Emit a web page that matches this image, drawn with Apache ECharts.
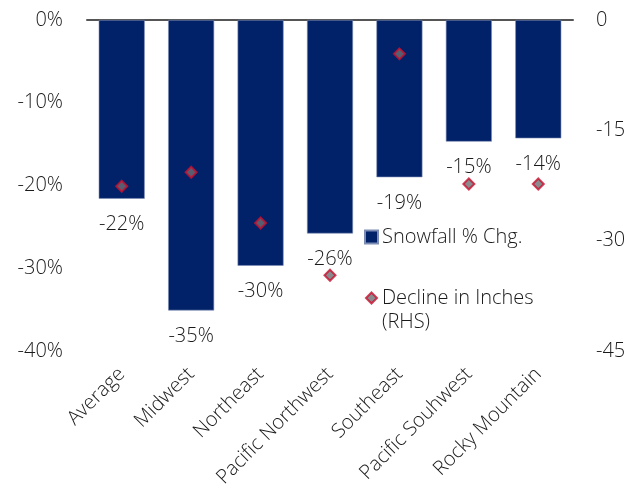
<!DOCTYPE html>
<html>
<head>
<meta charset="utf-8">
<script src="https://cdn.jsdelivr.net/npm/echarts@6/dist/echarts.min.js"></script>
<style>
  html, body { margin: 0; padding: 0; background: #fff; }
  #chart { width: 629px; height: 497px; }
</style>
</head>
<body>
<div id="chart"></div>
<script>
// Regional snowfall change: percent change (bars, left axis) and decline in inches (diamonds, right axis)
const regions = ['Average', 'Midwest', 'Northeast', 'Pacific Northwest', 'Southeast', 'Pacific Souhwest', 'Rocky Mountain'];
const snowfallPctChg = [-21.6, -35.1, -29.7, -25.8, -19.0, -14.7, -14.3];
const declineInches = [-22.6, -20.7, -27.6, -34.7, -4.6, -22.3, -22.3];
const leftTicks = { min: -40, max: 0, interval: 10 };
const rightTicks = { min: -45, max: 0, interval: 15 };

const FONT = "'Open Sans', 'Noto Sans', sans-serif";
const WEIGHT = 300;
const NAVY = '#012169';
const RED = '#c8102e';
const TEXT = '#1a1a1a';

const chart = echarts.init(document.getElementById('chart'), null, { renderer: 'canvas' });

chart.setOption({
  animation: false,
  textStyle: { fontFamily: FONT, fontWeight: WEIGHT },
  grid: { left: 87, right: 56, top: 20, bottom: 146 },
  legend: [
    {
      left: 359,
      top: 222,
      itemWidth: 13,
      itemHeight: 13,
      textStyle: { fontFamily: FONT, fontWeight: WEIGHT, fontSize: 20, color: TEXT, padding: [0, 0, 0, -1] },
      data: [{ name: 'Snowfall % Chg.', icon: 'rect' }]
    },
    {
      left: 360,
      top: 283,
      itemWidth: 11,
      itemHeight: 11,
      textStyle: { fontFamily: FONT, fontWeight: WEIGHT, fontSize: 20, color: TEXT },
      data: [{ name: 'Decline in Inches', icon: 'diamond' }]
    }
  ],
  graphic: [
    {
      type: 'text',
      left: 382,
      top: 312,
      style: { text: '(RHS)', fontFamily: FONT, fontWeight: WEIGHT, fontSize: 20, fill: TEXT }
    }
  ],
  xAxis: [
    {
      type: 'category',
      data: regions,
      position: 'bottom',
      axisLine: { show: false, onZero: false },
      axisTick: { show: false },
      axisLabel: {
        rotate: 45,
        margin: 20,
        fontFamily: FONT,
        fontWeight: WEIGHT,
        fontSize: 20,
        color: TEXT,
        interval: 0
      }
    },
    {
      type: 'category',
      data: regions,
      position: 'top',
      axisLine: { show: true, lineStyle: { color: '#555', width: 2 } },
      axisTick: { show: false },
      axisLabel: { show: false }
    }
  ],
  yAxis: [
    {
      type: 'value',
      min: leftTicks.min,
      max: leftTicks.max,
      interval: leftTicks.interval,
      position: 'left',
      splitLine: { show: false },
      axisLine: { show: false },
      axisTick: { show: false },
      axisLabel: {
        margin: 24,
        fontFamily: FONT,
        fontWeight: WEIGHT,
        fontSize: 20,
        color: TEXT,
        formatter: v => v + '%'
      }
    },
    {
      type: 'value',
      min: rightTicks.min,
      max: rightTicks.max,
      interval: rightTicks.interval,
      position: 'right',
      splitLine: { show: false },
      axisLine: { show: false },
      axisTick: { show: false },
      axisLabel: {
        margin: 23,
        fontFamily: FONT,
        fontWeight: WEIGHT,
        fontSize: 20,
        color: TEXT
      }
    }
  ],
  series: [
    {
      name: 'Snowfall % Chg.',
      type: 'bar',
      xAxisIndex: 0,
      yAxisIndex: 0,
      data: snowfallPctChg,
      barWidth: 46,
      itemStyle: { color: NAVY, borderColor: '#7d8db3', borderWidth: 0.6 },
      label: {
        show: true,
        position: 'bottom',
        distance: 16,
        fontFamily: FONT,
        fontWeight: WEIGHT,
        fontSize: 20,
        color: TEXT,
        formatter: p => Math.round(p.value) + '%'
      }
    },
    {
      name: 'Decline in Inches',
      type: 'scatter',
      xAxisIndex: 0,
      yAxisIndex: 1,
      data: declineInches,
      symbol: 'diamond',
      symbolSize: 11,
      itemStyle: { color: '#6e6e73', borderColor: RED, borderWidth: 2 },
      z: 5
    }
  ]
});
</script>
</body>
</html>
